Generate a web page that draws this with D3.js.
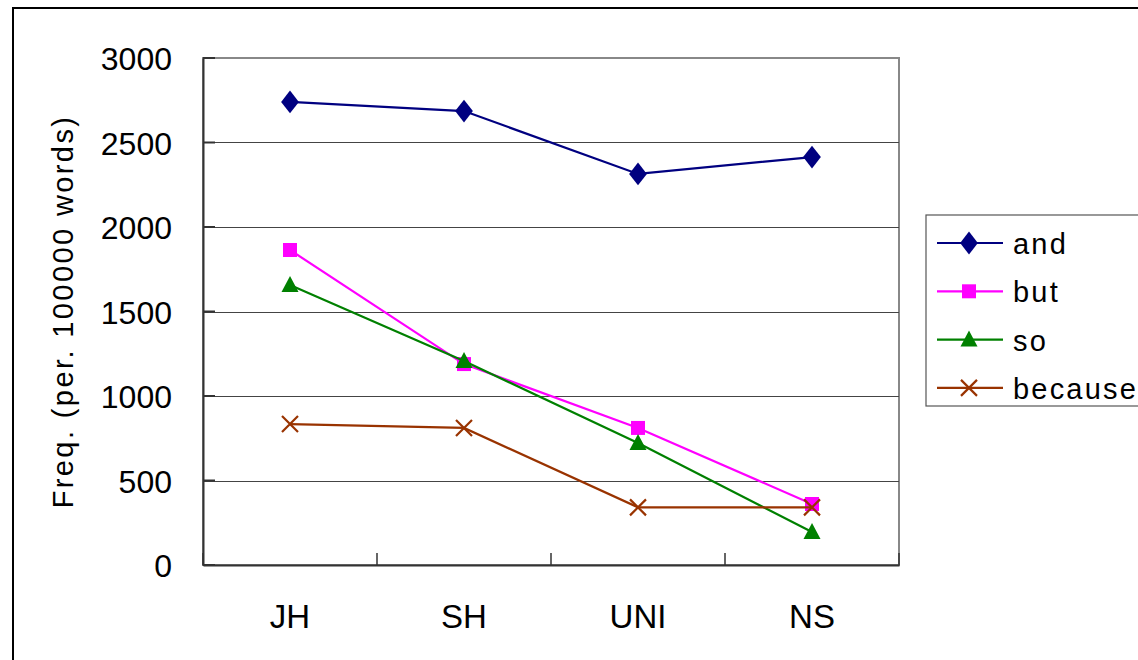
<!DOCTYPE html>
<html>
<head>
<meta charset="utf-8">
<script src="https://cdn.jsdelivr.net/npm/d3@7"></script>
<style>
  html, body { margin: 0; padding: 0; background: #fff; }
  svg { display: block; }
  text { font-family: "Liberation Sans", Arial, sans-serif; fill: #000; }
</style>
</head>
<body>
<svg id="chart" width="1138" height="660"></svg>
<script>
const categories = ["JH", "SH", "UNI", "NS"];
const seriesNames = ["and", "but", "so", "because"];
const andValues = [2740, 2686, 2314, 2414];
const butValues = [1864, 1189, 811, 361];
const soValues = [1657, 1207, 722, 195];
const becauseValues = [834, 811, 341, 341];
const yTicks = [0, 500, 1000, 1500, 2000, 2500, 3000];
const yTitle = "Freq. (per. 100000 words)";

const series = [
  { name: seriesNames[0], values: andValues, color: "#000080", shape: "diamond" },
  { name: seriesNames[1], values: butValues, color: "#FF00FF", shape: "square" },
  { name: seriesNames[2], values: soValues, color: "#008000", shape: "triangle" },
  { name: seriesNames[3], values: becauseValues, color: "#993300", shape: "cross" }
];

const svg = d3.select("#chart");
const plot = { left: 203, top: 58, right: 899, bottom: 565 };

// outer chart border (extends beyond view at right and bottom)
svg.append("rect").attr("x", 13).attr("y", 8).attr("width", 1200).attr("height", 700)
  .attr("fill", "#fff").attr("stroke", "#000").attr("stroke-width", 2);

const x = d3.scaleBand().domain(categories).range([plot.left, plot.right]).padding(0);
const y = d3.scaleLinear().domain([0, 3000]).range([plot.bottom, plot.top]);

// plot area border
svg.append("rect").attr("x", plot.left).attr("y", plot.top)
  .attr("width", plot.right - plot.left).attr("height", plot.bottom - plot.top)
  .attr("fill", "#fff").attr("stroke", "#888").attr("stroke-width", 2);

// gridlines
svg.append("g").selectAll("line").data(yTicks.filter(d => d > 0 && d < 3000)).join("line")
  .attr("x1", plot.left).attr("x2", plot.right)
  .attr("y1", d => Math.round(y(d)) + 0.5).attr("y2", d => Math.round(y(d)) + 0.5)
  .attr("stroke", "#444").attr("stroke-width", 1.2);

// y axis
const yAxis = d3.axisLeft(y).tickValues(yTicks).tickSize(0).tickPadding(31).tickFormat(d3.format("d"));
const yg = svg.append("g").attr("transform", `translate(${plot.left},0)`).call(yAxis);
yg.select(".domain").attr("stroke", "#333").attr("stroke-width", 2);
yg.selectAll("text").style("font-size", "32px").attr("dy", "0.36em");
// inward y ticks
svg.append("g").selectAll("line").data(yTicks).join("line")
  .attr("x1", plot.left).attr("x2", plot.left + 12)
  .attr("y1", d => y(d)).attr("y2", d => y(d))
  .attr("stroke", "#333").attr("stroke-width", 2);

// x axis
const xAxis = d3.axisBottom(x).tickSize(0).tickPadding(40);
const xg = svg.append("g").attr("transform", `translate(0,${plot.bottom})`).call(xAxis);
xg.select(".domain").attr("stroke", "#333").attr("stroke-width", 2);
xg.selectAll("text").style("font-size", "33px");
// inward x ticks at category boundaries
const bounds = categories.map(c => x(c)).concat([x(categories[categories.length - 1]) + x.bandwidth()]);
svg.append("g").selectAll("line").data(bounds).join("line")
  .attr("x1", d => d).attr("x2", d => d)
  .attr("y1", plot.bottom).attr("y2", plot.bottom - 12)
  .attr("stroke", "#333").attr("stroke-width", 1.5);

// y title
svg.append("text")
  .attr("transform", `translate(73,${(plot.top + plot.bottom) / 2}) rotate(-90)`)
  .attr("text-anchor", "middle")
  .style("font-size", "29px").style("letter-spacing", "2.4px")
  .text(yTitle);

const cx = c => x(c) + x.bandwidth() / 2;

function drawMarker(g, shape, color, px, py) {
  if (shape === "diamond") {
    g.append("path").attr("d", d3.symbol(d3.symbolDiamond, 150)())
      .attr("transform", `translate(${px},${py}) scale(1.35,1)`).attr("fill", color);
  } else if (shape === "square") {
    g.append("path").attr("d", d3.symbol(d3.symbolSquare, 196)())
      .attr("transform", `translate(${px},${py})`).attr("fill", color);
  } else if (shape === "triangle") {
    g.append("path").attr("d", "M0,-9L8.5,7L-8.5,7Z")
      .attr("transform", `translate(${px},${py})`).attr("fill", color);
  } else if (shape === "cross") {
    g.append("path").attr("d", "M-8,-8L8,8M-8,8L8,-8")
      .attr("transform", `translate(${px},${py})`).attr("stroke", color)
      .attr("stroke-width", 2.2).attr("fill", "none");
  }
}

const line = d3.line().x((d, i) => cx(categories[i])).y(d => y(d));

series.forEach(s => {
  const g = svg.append("g");
  g.append("path").datum(s.values).attr("d", line)
    .attr("fill", "none").attr("stroke", s.color).attr("stroke-width", 2.2);
  s.values.forEach((v, i) => drawMarker(g, s.shape, s.color, cx(categories[i]), y(v)));
});

// legend
const lg = svg.append("g");
lg.append("rect").attr("x", 926).attr("y", 215).attr("width", 300).attr("height", 191)
  .attr("fill", "#fff").attr("stroke", "#555").attr("stroke-width", 1.2);
series.forEach((s, i) => {
  const ly = 243 + i * 48.3;
  lg.append("line").attr("x1", 937).attr("x2", 1003).attr("y1", ly).attr("y2", ly)
    .attr("stroke", s.color).attr("stroke-width", 2.2);
  drawMarker(lg, s.shape, s.color, 969, ly);
  lg.append("text").attr("x", 1013).attr("y", ly).attr("dy", "0.38em")
    .style("font-size", "29px").style("letter-spacing", "2.2px").text(s.name);
});
</script>
</body>
</html>
